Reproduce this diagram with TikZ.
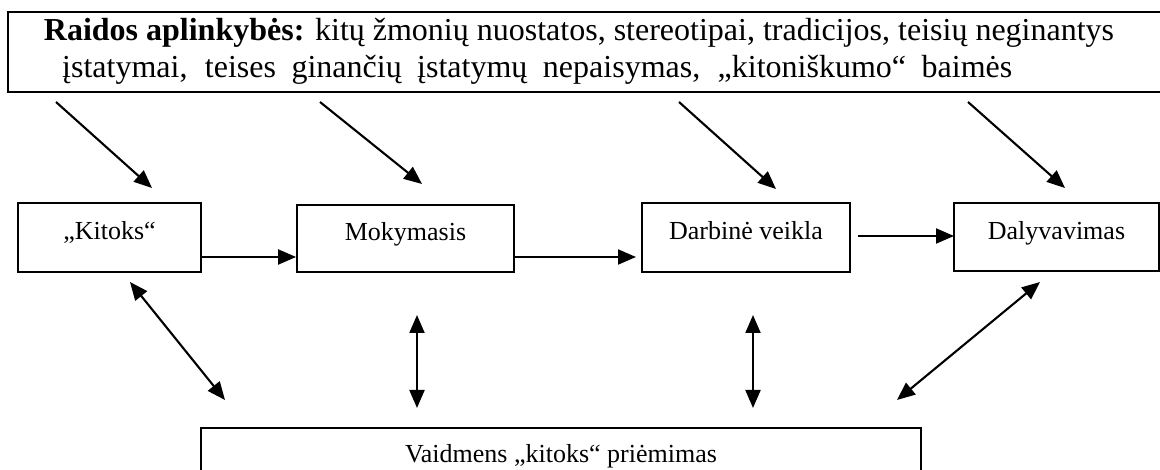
\documentclass[tikz,border=0pt]{standalone}
\usepackage{fontspec}
\setmainfont{Liberation Serif}
\usetikzlibrary{arrows.meta}
\begin{document}
\begin{tikzpicture}[x=1pt,y=-1pt,
  every node/.style={font=\fontsize{26}{31}\selectfont},
  toptext/.style={inner sep=0pt, font=\fontsize{32}{37}\selectfont},
  box/.style={draw, line width=1.8pt, inner sep=0pt, text height=20pt, text depth=15pt},
  arr/.style={line width=2.1pt, -{Triangle[length=18pt,width=15pt]}},
  darr/.style={line width=2.1pt, {Triangle[length=18pt,width=15pt]}-{Triangle[length=18pt,width=15pt]}}]
\useasboundingbox (0,0) rectangle (1160,470);
% top box
\node[draw, line width=1.8pt, minimum width=1162pt, minimum height=80pt, inner sep=0pt] (top) at (589,52) {};
\node[toptext, anchor=base] (t1) at (579,41) {\textbf{Raidos aplinkybės:} kitų žmonių nuostatos, stereotipai, tradicijos, teisių neginantys};
\node[toptext, anchor=base west] (t2) at (62,78) {\makebox[950pt][s]{įstatymai, teises ginančių įstatymų nepaisymas, „kitoniškumo“ baimės}};
% boxes
\node[box, minimum width=183pt, minimum height=69pt] (kit) at (109.5,237.5) {„Kitoks“};
\node[box, minimum width=217pt, minimum height=67pt] (mok) at (405.5,238.5) {Mokymasis};
\node[box, minimum width=208pt, minimum height=69pt] (dar) at (746,237.5) {Darbinė veikla};
\node[box, minimum width=205pt, minimum height=68pt] (dal) at (1056.5,237) {Dalyvavimas};
\node[box, minimum width=720pt, minimum height=72pt, text height=20pt, text depth=24pt] (vai) at (561,464) {Vaidmens „kitoks“ priėmimas};
% arrow end points
\coordinate (a1s) at (56,102);  \coordinate (a1e) at (152,188);
\coordinate (a2s) at (320,102); \coordinate (a2e) at (422,184);
\coordinate (a3s) at (679,102); \coordinate (a3e) at (776,189);
\coordinate (a4s) at (968,102); \coordinate (a4e) at (1065,188);
\coordinate (h2s) at (514,257); \coordinate (h2e) at (636,257);
\coordinate (h3s) at (858,236); \coordinate (h3e) at (954,236);
\coordinate (d1s) at (130,282); \coordinate (d1e) at (225,400);
\coordinate (d2s) at (417,315); \coordinate (d2e) at (417,408);
\coordinate (d3s) at (753,315); \coordinate (d3e) at (753,408);
\coordinate (d4s) at (1040,282); \coordinate (d4e) at (897,400);
% connectors
\draw[arr] (a1s) -- (a1e);
\draw[arr] (a2s) -- (a2e);
\draw[arr] (a3s) -- (a3e);
\draw[arr] (a4s) -- (a4e);
\draw[arr] (kit.east |- 0,257) -- (mok.west |- 0,257);
\draw[arr] (h2s) -- (h2e);
\draw[arr] (h3s) -- (h3e);
\draw[darr] (d1s) -- (d1e);
\draw[darr] (d2s) -- (d2e);
\draw[darr] (d3s) -- (d3e);
\draw[darr] (d4s) -- (d4e);
\end{tikzpicture}
\end{document}
